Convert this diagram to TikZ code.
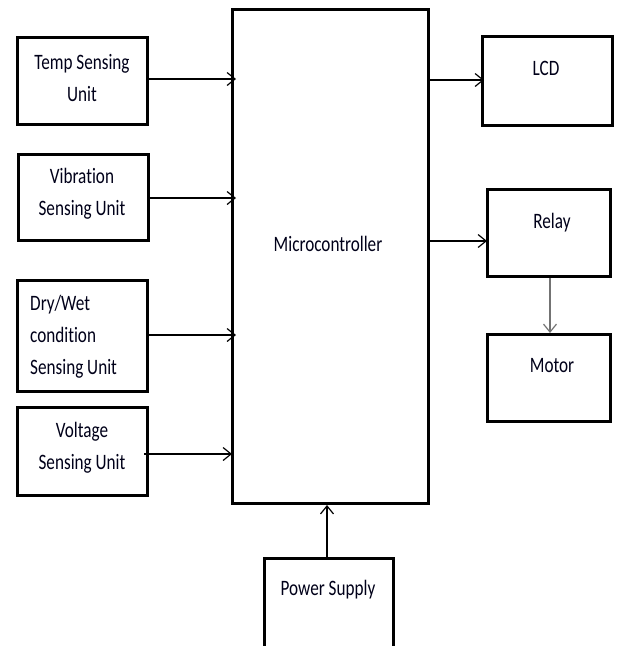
\documentclass[tikz,border=0pt]{standalone}
\usepackage{fontspec}
\setmainfont{Carlito}[FakeStretch=0.78, Ligatures=NoCommon]
\usetikzlibrary{arrows.meta}
\tikzset{
  box/.style={draw=black, line width=3pt, rectangle, inner sep=0pt},
  lbl/.style={inner sep=0pt, font=\fontsize{22}{32}\selectfont, text=black!90!blue},
  conn/.style={line width=1.2pt, -{Straight Barb[length=8pt,width=13pt,line width=1.2pt]}},
}
\begin{document}
\begin{tikzpicture}[x=1pt,y=-1pt]
\clip (0,0) rectangle (622,646);
\useasboundingbox (0,0) rectangle (622,646);
\fill[white] (0,0) rectangle (622,646);
% boxes
\node[box, minimum width=130pt, minimum height=87pt] (temp) at (82.5,81) {};
\node[box, minimum width=130pt, minimum height=86pt] (vib) at (83,197.5) {};
\node[box, minimum width=130pt, minimum height=111pt] (dry) at (82.5,336) {};
\node[box, minimum width=130pt, minimum height=88pt] (volt) at (82.5,451.5) {};
\node[box, minimum width=196pt, minimum height=494pt] (micro) at (330.5,256.5) {};
\node[box, minimum width=130pt, minimum height=89pt] (lcd) at (547.5,81) {};
\node[box, minimum width=123pt, minimum height=87pt] (relay) at (549,233) {};
\node[box, minimum width=123pt, minimum height=87pt] (motor) at (549,378) {};
\node[box, minimum width=129pt, minimum height=101pt] (ps) at (329,609) {};
% labels
\node[lbl, align=center] (ttemp) at (82,78) {Temp Sensing\\Unit};
\node[lbl, align=center] (tvib) at (82,194) {Vibration\\Sensing Unit};
\node[lbl, align=left, anchor=west] (tdry) at (30,337) {Dry/Wet\\condition\\Sensing Unit};
\node[lbl, align=center] (tvolt) at (82,447.5) {Voltage\\Sensing Unit};
\node[lbl] (tmicro) at (328,244) {Microcontroller};
\node[lbl] (tlcd) at (546,68) {LCD};
\node[lbl] (trelay) at (552,223) {Relay};
\node[lbl] (tmotor) at (552,366) {Motor};
\node[lbl] (tps) at (328,590) {Power Supply};
% connectors
\coordinate (c1) at (0,79);
\coordinate (c2) at (0,198);
\coordinate (c3) at (0,335);
\coordinate (c4) at (0,454);
\coordinate (c5) at (0,80);
\coordinate (c6) at (0,241);
\coordinate (c7) at (550,0);
\coordinate (c8) at (327,0);
\draw[conn, shorten >=-5pt] (temp.east |- c1) -- (micro.west |- c1);
\draw[conn, shorten >=-5pt] (vib.east |- c2) -- (micro.west |- c2);
\draw[conn, shorten >=-5pt] (dry.east |- c3) -- (micro.west |- c3);
\draw[conn, shorten <=-5pt, shorten >=-1pt] (volt.east |- c4) -- (micro.west |- c4);
\draw[conn, shorten >=-3pt] (micro.east |- c5) -- (lcd.west |- c5);
\draw[conn, shorten >=-1pt] (micro.east |- c6) -- (relay.west |- c6);
\draw[conn, draw=black!55] (relay.south -| c7) -- (motor.north -| c7);
\draw[conn] (ps.north -| c8) -- (micro.south -| c8);
\end{tikzpicture}
\end{document}
